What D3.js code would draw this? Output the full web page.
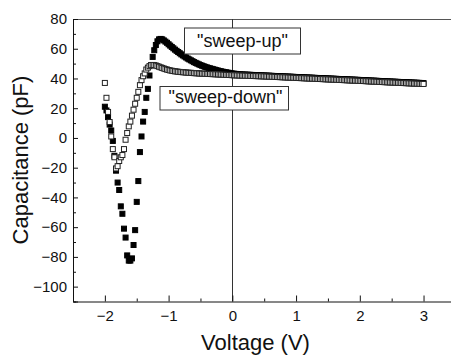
<!DOCTYPE html>
<html>
<head>
<meta charset="utf-8">
<script src="https://cdn.jsdelivr.net/npm/d3@7"></script>
<style>
  html, body { margin: 0; padding: 0; background: #fff; }
  svg { display: block; font-family: Arial, "Liberation Sans", sans-serif; }
</style>
</head>
<body>
<svg id="chart" width="451" height="355"></svg>
<script>
// Bias voltage of the C–V sweep (V)
const voltage = [
  -2, -1.975, -1.95, -1.925, -1.9, -1.875, -1.85, -1.825, -1.8, -1.775,
  -1.75, -1.725, -1.7, -1.675, -1.65, -1.625, -1.6, -1.575, -1.55, -1.525,
  -1.5, -1.475, -1.45, -1.425, -1.4, -1.375, -1.35, -1.325, -1.3, -1.275,
  -1.25, -1.225, -1.2, -1.175, -1.15, -1.125, -1.1, -1.075, -1.05, -1.025,
  -1, -0.975, -0.95, -0.925, -0.9, -0.875, -0.85, -0.825, -0.8, -0.775,
  -0.75, -0.725, -0.7, -0.675, -0.65, -0.625, -0.6, -0.575, -0.55, -0.525,
  -0.5, -0.475, -0.45, -0.425, -0.4, -0.375, -0.35, -0.325, -0.3, -0.275,
  -0.25, -0.225, -0.2, -0.175, -0.15, -0.125, -0.1, -0.075, -0.05, -0.025,
  0, 0.025, 0.05, 0.075, 0.1, 0.125, 0.15, 0.175, 0.2, 0.225,
  0.25, 0.275, 0.3, 0.325, 0.35, 0.375, 0.4, 0.425, 0.45, 0.475,
  0.5, 0.525, 0.55, 0.575, 0.6, 0.625, 0.65, 0.675, 0.7, 0.725,
  0.75, 0.775, 0.8, 0.825, 0.85, 0.875, 0.9, 0.925, 0.95, 0.975,
  1, 1.025, 1.05, 1.075, 1.1, 1.125, 1.15, 1.175, 1.2, 1.225,
  1.25, 1.275, 1.3, 1.325, 1.35, 1.375, 1.4, 1.425, 1.45, 1.475,
  1.5, 1.525, 1.55, 1.575, 1.6, 1.625, 1.65, 1.675, 1.7, 1.725,
  1.75, 1.775, 1.8, 1.825, 1.85, 1.875, 1.9, 1.925, 1.95, 1.975,
  2, 2.025, 2.05, 2.075, 2.1, 2.125, 2.15, 2.175, 2.2, 2.225,
  2.25, 2.275, 2.3, 2.325, 2.35, 2.375, 2.4, 2.425, 2.45, 2.475,
  2.5, 2.525, 2.55, 2.575, 2.6, 2.625, 2.65, 2.675, 2.7, 2.725,
  2.75, 2.775, 2.8, 2.825, 2.85, 2.875, 2.9, 2.925, 2.95, 2.975,
  3
];

// Capacitance while sweeping the bias upward (pF), filled squares
const sweepUp = [
  21, 18.5, 14, 9, 5, -2, -12, -22, -30, -35,
  -46, -51, -61, -67, -79, -82.5, -82.5, -81, -72, -62,
  -43, -29, -9.5, 1, 11, 17.5, 27, 33, 42, 49,
  54.5, 59, 62.5, 65, 66.3, 66.6, 66.3, 65.6, 64.8, 64,
  63, 62.1, 61.2, 60.3, 59.4, 58.6, 57.8, 57, 56.2, 55.5,
  54.8, 54.1, 53.4, 52.8, 52.2, 51.6, 51, 50.5, 50, 49.5,
  49, 48.6, 48.2, 47.8, 47.45, 47.1, 46.8, 46.5, 46.2, 45.9,
  45.6, 45.3, 45.05, 44.8, 44.55, 44.35, 44.15, 43.95, 43.75, 43.55,
  43.35, 43.2, 43.1, 43, 42.9, 42.8, 42.7, 42.65, 42.6, 42.55,
  42.5, 42.45, 42.4, 42.35, 42.3, 42.25, 42.2, 42.15, 42.1, 42.05,
  42, 41.95, 41.9, 41.85, 41.8, 41.75, 41.7, 41.65, 41.6, 41.55,
  41.5, 41.45, 41.4, 41.35, 41.3, 41.25, 41.2, 41.15, 41.1, 41.05,
  41, 40.95, 40.9, 40.85, 40.8, 40.75, 40.7, 40.65, 40.6, 40.55,
  40.5, 40.45, 40.4, 40.35, 40.3, 40.25, 40.2, 40.15, 40.1, 40.05,
  40, 39.95, 39.9, 39.85, 39.8, 39.75, 39.7, 39.65, 39.6, 39.55,
  39.5, 39.45, 39.4, 39.35, 39.3, 39.25, 39.2, 39.15, 39.1, 39.05,
  39, 38.95, 38.9, 38.84, 38.78, 38.72, 38.66, 38.6, 38.55, 38.5,
  38.45, 38.4, 38.34, 38.28, 38.22, 38.16, 38.1, 38.05, 38, 37.95,
  37.9, 37.85, 37.8, 37.75, 37.7, 37.65, 37.6, 37.55, 37.5, 37.45,
  37.4, 37.35, 37.3, 37.25, 37.2, 37.15, 37.1, 37.05, 37, 36.95,
  36.9
];

// Capacitance while sweeping the bias downward (pF), open squares
const sweepDown = [
  37, 27, 17.5, 10.7, 1, -7.5, -13, -20.5, -19, -15.5,
  -13, -11.5, -7.5, -1.2, 3.3, 7.8, 11, 15, 19, 23,
  27, 31, 35.5, 38.9, 41.5, 43.4, 46, 47.3, 48.3, 48.9,
  49.1, 49, 48.7, 48.3, 47.9, 47.5, 47.1, 46.7, 46.3, 46,
  45.7, 45.4, 45.2, 45, 44.8, 44.7, 44.5, 44.4, 44.3, 44.2,
  44.1, 44, 43.9, 43.8, 43.8, 43.7, 43.6, 43.5, 43.5, 43.4,
  43.3, 43.25, 43.2, 43.15, 43.1, 43.05, 43, 42.95, 42.9, 42.85,
  42.8, 42.75, 42.7, 42.65, 42.6, 42.5, 42.45, 42.4, 42.35, 42.3,
  42.2, 42.16, 42.12, 42.08, 42.04, 42, 41.96, 41.92, 41.88, 41.84,
  41.8, 41.76, 41.72, 41.68, 41.64, 41.6, 41.56, 41.52, 41.48, 41.44,
  41.4, 41.35, 41.3, 41.25, 41.2, 41.15, 41.1, 41.05, 41, 40.95,
  40.9, 40.85, 40.8, 40.75, 40.7, 40.65, 40.6, 40.55, 40.5, 40.45,
  40.4, 40.35, 40.3, 40.25, 40.2, 40.15, 40.1, 40.05, 40, 39.95,
  39.9, 39.85, 39.8, 39.75, 39.7, 39.65, 39.6, 39.55, 39.5, 39.45,
  39.4, 39.35, 39.3, 39.25, 39.2, 39.15, 39.1, 39.05, 39, 38.95,
  38.9, 38.85, 38.8, 38.75, 38.7, 38.65, 38.6, 38.55, 38.5, 38.45,
  38.4, 38.35, 38.3, 38.24, 38.18, 38.12, 38.06, 38, 37.95, 37.9,
  37.85, 37.8, 37.74, 37.68, 37.62, 37.56, 37.5, 37.45, 37.4, 37.35,
  37.3, 37.25, 37.2, 37.15, 37.1, 37.05, 37, 36.95, 36.9, 36.85,
  36.8, 36.75, 36.7, 36.65, 36.6, 36.55, 36.5, 36.45, 36.4, 36.35,
  36.3
];

const xMajorTicks = [-2, -1, 0, 1, 2, 3];
const xMinorTicks = [-1.5, -0.5, 0.5, 1.5, 2.5];
const yMajorTicks = [-100, -80, -60, -40, -20, 0, 20, 40, 60, 80];
const yMinorTicks = [-110, -90, -70, -50, -30, -10, 10, 30, 50, 70];

const annotations = [
  { text: '"sweep-up"', x0: 184, x1: 300, y0: 27.5, y1: 53.5, tx: 242.5, ty: 46.5 },
  { text: '"sweep-down"', x0: 159.5, x1: 288, y0: 86, y1: 109.5, tx: 225.5, ty: 103 }
];

const svg = d3.select("#chart");
const plotLeft = 73, plotRight = 455.4, plotTop = 19, plotBottom = 301.5;

const x = d3.scaleLinear().domain([-2.5, 3.5]).range([plotLeft, plotRight]);
const y = d3.scaleLinear().domain([-110, 80]).range([plotBottom, plotTop]);

const ink = "#111";

// Frame: top border
svg.append("line")
  .attr("x1", plotLeft).attr("x2", 451).attr("y1", plotTop + 0.5).attr("y2", plotTop + 0.5)
  .attr("stroke", "#555").attr("stroke-width", 1);

// Zero-bias guide line
svg.append("line")
  .attr("x1", Math.round(x(0)) + 0.5).attr("x2", Math.round(x(0)) + 0.5)
  .attr("y1", plotTop).attr("y2", plotBottom)
  .attr("stroke", "#333").attr("stroke-width", 1);

// Axes with inward ticks
const yAxis = svg.append("g")
  .attr("transform", `translate(${plotLeft},0)`)
  .call(d3.axisLeft(y).tickValues(yMajorTicks).tickSize(-5).tickPadding(6).tickFormat(d3.format("d")));
const yAxisMinor = svg.append("g")
  .attr("transform", `translate(${plotLeft},0)`)
  .call(d3.axisLeft(y).tickValues(yMinorTicks).tickSize(-3).tickFormat(""));
const xAxis = svg.append("g")
  .attr("transform", `translate(0,${plotBottom})`)
  .call(d3.axisBottom(x).tickValues(xMajorTicks).tickSize(-6).tickPadding(9).tickFormat(d3.format("d")));
const xAxisMinor = svg.append("g")
  .attr("transform", `translate(0,${plotBottom})`)
  .call(d3.axisBottom(x).tickValues(xMinorTicks).tickSize(-3).tickFormat(""));

[yAxis, yAxisMinor, xAxis, xAxisMinor].forEach(g => {
  g.select(".domain").attr("stroke", ink);
  g.selectAll(".tick line").attr("stroke", ink);
  g.selectAll(".tick text").attr("fill", ink).style("font-size", "15px")
    .style("font-family", "Arial, 'Liberation Sans', sans-serif");
});
yAxisMinor.select(".domain").remove();
xAxisMinor.select(".domain").remove();

// Markers
const size = 5;
const plot = svg.append("g");

plot.selectAll("rect.up")
  .data(voltage.map((v, i) => [v, sweepUp[i]]))
  .join("rect")
  .attr("class", "up")
  .attr("x", d => x(d[0]) - size / 2)
  .attr("y", d => y(d[1]) - size / 2)
  .attr("width", size).attr("height", size)
  .attr("fill", "#000").attr("stroke", "#000").attr("stroke-width", 1);

plot.selectAll("rect.down")
  .data(voltage.map((v, i) => [v, sweepDown[i]]))
  .join("rect")
  .attr("class", "down")
  .attr("x", d => x(d[0]) - size / 2)
  .attr("y", d => y(d[1]) - size / 2)
  .attr("width", size).attr("height", size)
  .attr("fill", "#fff").attr("stroke", "#222").attr("stroke-width", 1);

// Text boxes naming the two sweeps
const notes = svg.append("g").selectAll("g").data(annotations).join("g");
notes.append("rect")
  .attr("x", d => d.x0 + 0.5).attr("y", d => d.y0 + 0.5)
  .attr("width", d => d.x1 - d.x0).attr("height", d => d.y1 - d.y0)
  .attr("fill", "#fff").attr("stroke", "#333").attr("stroke-width", 1);
notes.append("text")
  .attr("x", d => d.tx).attr("y", d => d.ty)
  .attr("text-anchor", "middle")
  .style("font-size", "18px").attr("fill", ink)
  .text(d => d.text);

// Axis titles
svg.append("text")
  .attr("x", 255.5).attr("y", 349.5)
  .attr("text-anchor", "middle")
  .style("font-size", "22px").attr("fill", ink)
  .text("Voltage (V)");

svg.append("text")
  .attr("transform", "translate(27.5,160) rotate(-90)")
  .attr("text-anchor", "middle")
  .style("font-size", "22px").attr("fill", ink)
  .text("Capacitance (pF)");
</script>
</body>
</html>
